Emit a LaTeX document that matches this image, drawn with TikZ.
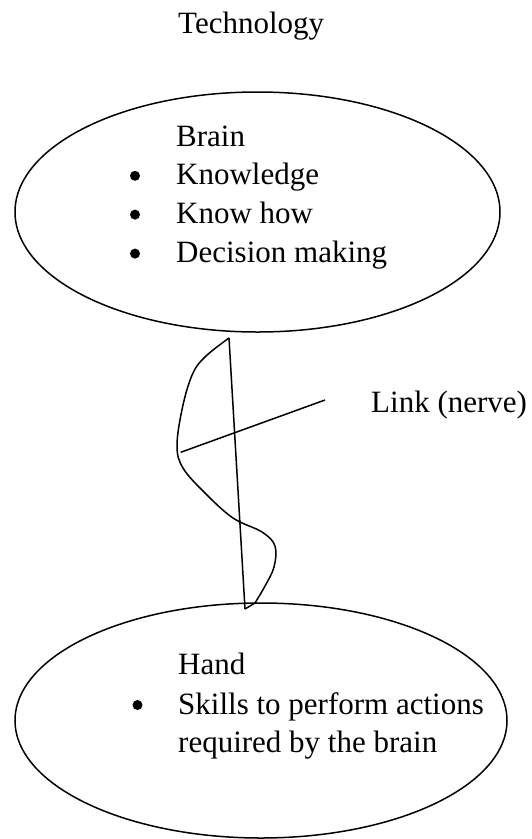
\documentclass[tikz,border=0pt]{standalone}
\usepackage{fontspec}
\setmainfont{Liberation Serif}
\usetikzlibrary{shapes.geometric}
\begin{document}
\begin{tikzpicture}[x=1pt,y=-1pt,
  stroke/.style={line width=1.5pt,black},
  oval/.style={stroke,draw,ellipse,inner sep=0pt},
  txt/.style={anchor=base west,inner sep=0pt,font=\fontsize{31}{39}\selectfont},
  dot/.style={fill=black}]
\useasboundingbox (0,0) rectangle (531,839);
% ellipses
\draw[stroke] (257.5,212) ellipse [x radius=242.5pt,y radius=120pt];
\node[minimum width=485pt,minimum height=240pt,inner sep=0pt] (brain) at (257.5,212) {};
\draw[stroke] (261,720.5) ellipse [x radius=246pt,y radius=117.5pt];
\node[minimum width=492pt,minimum height=235pt,inner sep=0pt] (hand) at (261,720.5) {};
% texts
\node[txt] (title) at (178,33) {Technology};
\node[txt] (bt) at (176,146) {Brain};
\node[txt] (b1) at (176,184.5) {Knowledge};
\node[txt] (b2) at (176,223.3) {Know how};
\node[txt] (b3) at (176,262.3) {Decision making};
\fill[dot] (135,175.8) circle (5pt);
\fill[dot] (135,214.6) circle (5pt);
\fill[dot] (135,253.6) circle (5pt);
\node[txt] (ht) at (178,674) {Hand};
\node[txt] (h1) at (178,714) {Skills to perform actions};
\node[txt] (h2) at (178,752) {required by the brain};
\fill[dot] (137.5,705) circle (5pt);
\node[txt] (link) at (371,412) {Link (nerve)};
% nerve
\coordinate (ntop) at (229,338);
\coordinate (nbot) at (245,609);
\coordinate (xa) at (180.7,452.3);
\coordinate (xb) at (325,400);
\draw[stroke,line join=round] (ntop) -- (nbot);
\draw[stroke,line join=round] plot[smooth,tension=0.6] coordinates {(229,338) (206,356) (193,373) (183,405) (177,445) (183,468) (205,493) (233,518) (262,532) (275,546) (274,567) (265,586) (255,603)} -- (nbot);
\draw[stroke] (xa) -- (xb);
\end{tikzpicture}
\end{document}
